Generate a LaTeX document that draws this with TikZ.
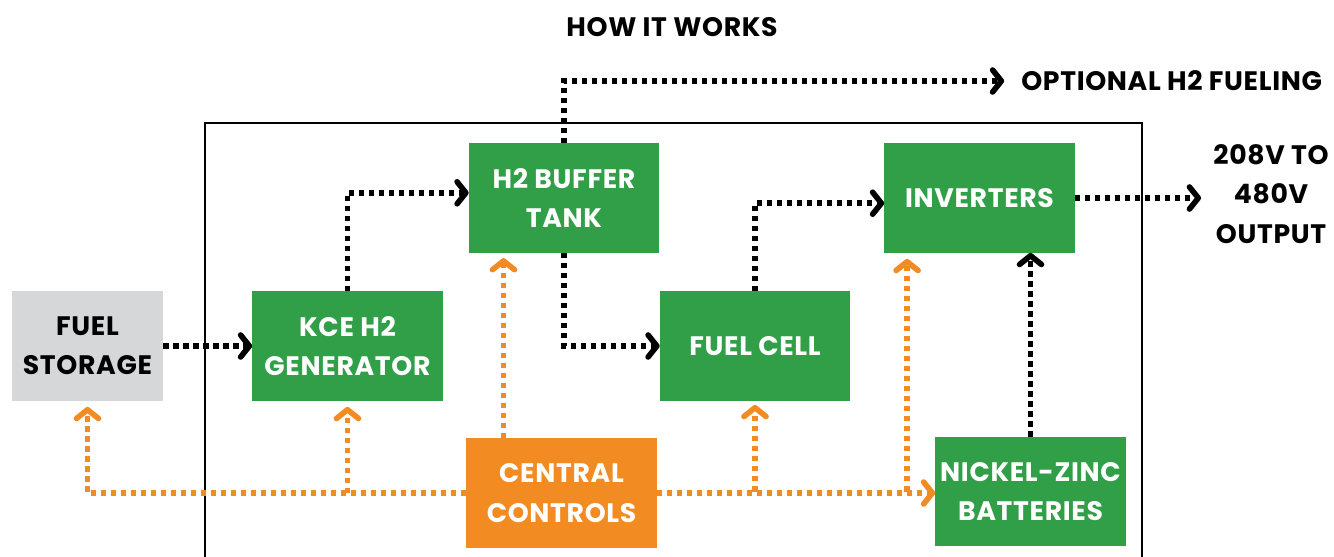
\documentclass[tikz,border=0pt]{standalone}
\usepackage{fontspec}
\setmainfont{Poppins}[LetterSpace=2.5]
\usetikzlibrary{arrows.meta}

\definecolor{unitgreen}{HTML}{309F48}
\definecolor{ctrlorange}{HTML}{F28B22}
\definecolor{storegray}{HTML}{D6D7D9}

\begin{document}
\begin{tikzpicture}[x=0.025cm, y=-0.025cm,
        unit/.style={shape=rectangle, fill=unitgreen, text=white, align=center,
            minimum width=4.75cm, minimum height=2.73cm, inner sep=0pt,
            font=\bfseries\fontsize{19}{28}\selectfont},
        tag/.style={inner sep=0pt, align=center, font=\bfseries\fontsize{19}{28}\selectfont},
        flow/.style={line width=0.14cm, dash pattern=on 0.13cm off 0.12cm,
            -{Straight Barb[length=0.22cm, width=0.55cm, round]}},
        power/.style={flow, black},
        signal/.style={flow, ctrlorange}]
        \useasboundingbox (0, 0) rectangle (1334, 557);
        \clip (0, 0) rectangle (1334, 557);

        \draw[black, line width=0.07cm] (205, 123) rectangle (1142, 560);

        \node[tag] (title) at (672, 27) {HOW IT WORKS};

        \node[unit, fill=storegray, text=black, minimum width=3.78cm] (fuel) at (87.5, 346) {FUEL\\STORAGE};
        \node[unit] (kce) at (347.5, 346) {KCE H2\\GENERATOR};
        \node[unit] (buffer) at (564, 198) {H2 BUFFER\\TANK};
        \node[unit] (cell) at (755, 346) {FUEL CELL};
        \node[unit] (inv) at (979.5, 198) {INVERTERS};
        \node[unit, fill=ctrlorange] (ctrl) at (561.5, 493) {CENTRAL\\CONTROLS};
        \node[unit] (batt) at (1030.5, 491.5) {NICKEL-ZINC\\BATTERIES};

        \node[tag, anchor=west] (fueling) at (1021, 81) {OPTIONAL H2 FUELING};
        \node[tag] (output) at (1271, 194) {208V TO\\480V\\OUTPUT};

        \coordinate (ctrlup) at ([xshift=-1.45cm]ctrl.north);
        \coordinate (invfeed) at ([xshift=-1.81cm]inv.south);

        \draw[power] (fuel.east) -- (kce.west);
        \draw[power] (kce.north) |- ([yshift=0.13cm]buffer.west);
        \draw[power, shorten >=0.42cm] (buffer.north) |- (fueling.west);
        \draw[power] (buffer.south) |- (cell.west);
        \draw[power] (cell.north) |- ([yshift=-0.13cm]inv.west);
        \draw[power, shorten >=0.3cm] (inv.east) -- (inv.east -| output.west);
        \draw[power] (batt.north) -- (batt.north |- inv.south);

        \draw[signal, shorten >=0.15cm] (ctrl.west) -| (fuel.south);
        \draw[signal, shorten >=0.15cm] (kce.south |- ctrl.west) -- (kce.south);
        \draw[signal, shorten >=0.13cm] (ctrlup) -- (ctrlup |- buffer.south);
        \draw[signal] (ctrl.east) -- (ctrl.east -| batt.west);
        \draw[signal, shorten >=0.1cm] (cell.south |- batt.west) -- (cell.south);
        \draw[signal, shorten >=0.15cm] (invfeed |- batt.west) -- (invfeed);

    \end{tikzpicture}
\end{document}
